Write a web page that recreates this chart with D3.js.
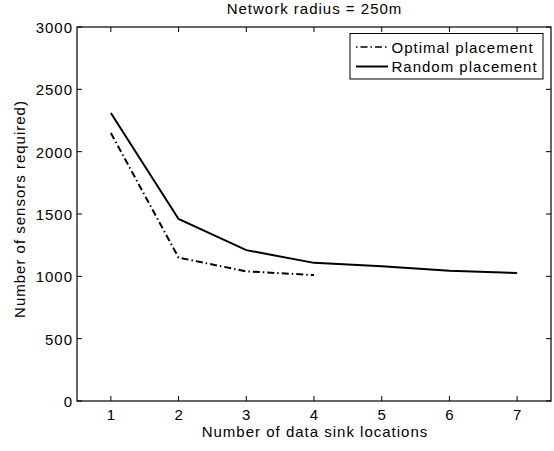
<!DOCTYPE html>
<html><head><meta charset="utf-8">
<script src="https://cdn.jsdelivr.net/npm/d3@7"></script>
<style>body{margin:0;background:#fff}svg{display:block}text{font-family:"Liberation Sans",Arial,sans-serif;fill:#000;font-size:15px;letter-spacing:1px}</style>
</head><body><svg id="c" width="554" height="451"></svg>
<script>
const optimalX = [1, 2, 3, 4];
const optimalY = [2150, 1150, 1040, 1010];
const randomX = [1, 2, 3, 4, 5, 6, 7];
const randomY = [2310, 1460, 1210, 1108, 1080, 1045, 1027];
const xTicks = [1, 2, 3, 4, 5, 6, 7];
const yTicks = [0, 500, 1000, 1500, 2000, 2500, 3000];
const seriesNames = ["Optimal placement", "Random placement"];

const svg = d3.select("#c");
const L = 77, R = 551, T = 27, B = 401;
const x = d3.scaleLinear().domain([0.5, 7.5]).range([L, R]);
const y = d3.scaleLinear().domain([0, 3000]).range([B, T]);

const tl = 5;
const g = svg.append("g");
xTicks.forEach(v => {
  g.append("line").attr("x1", x(v)).attr("x2", x(v)).attr("y1", B).attr("y2", B - tl).attr("stroke", "#000");
  g.append("line").attr("x1", x(v)).attr("x2", x(v)).attr("y1", T).attr("y2", T + tl).attr("stroke", "#000");
  g.append("text").attr("x", x(v) + 0.5).attr("y", 420).attr("text-anchor", "middle").text(v);
});
yTicks.forEach(v => {
  g.append("line").attr("x1", L).attr("x2", L + tl).attr("y1", y(v)).attr("y2", y(v)).attr("stroke", "#000");
  g.append("line").attr("x1", R).attr("x2", R - tl).attr("y1", y(v)).attr("y2", y(v)).attr("stroke", "#000");
  g.append("text").attr("x", 73).attr("y", y(v) + 6).attr("text-anchor", "end").text(v);
});
g.append("rect").attr("x", L).attr("y", T).attr("width", R - L).attr("height", B - T)
  .attr("fill", "none").attr("stroke", "#000").attr("stroke-width", 1.2);

const line = d3.line().x(d => x(d[0])).y(d => y(d[1]));
const optData = optimalX.map((v, i) => [v, optimalY[i]]);
const rndData = randomX.map((v, i) => [v, randomY[i]]);
svg.append("path").attr("d", line(optData)).attr("fill", "none").attr("stroke", "#000")
  .attr("stroke-width", 2).attr("stroke-dasharray", "7,3,1.5,3");
svg.append("path").attr("d", line(rndData)).attr("fill", "none").attr("stroke", "#000")
  .attr("stroke-width", 2);

svg.append("text").attr("x", 314.5).attr("y", 13.5).attr("text-anchor", "middle").text("Network radius = 250m");
svg.append("text").attr("x", 315).attr("y", 437).attr("text-anchor", "middle").text("Number of data sink locations");
svg.append("text").attr("transform", `translate(25,209) rotate(-90)`).attr("text-anchor", "middle").text("Number of sensors required)");

const lg = svg.append("g");
lg.append("rect").attr("x", 350).attr("y", 33.5).attr("width", 193).attr("height", 45.5).attr("fill", "#fff").attr("stroke", "#000");
const rows = [[47, 53, true], [66.5, 72, false]];
rows.forEach((r, i) => {
  const ln = lg.append("line").attr("x1", 356).attr("x2", 388).attr("y1", r[0]).attr("y2", r[0]).attr("stroke", "#000").attr("stroke-width", 2);
  if (r[2]) ln.attr("stroke-dasharray", "1.5,3,7,3").attr("stroke-width", 1.5);
  lg.append("text").attr("x", 391.5).attr("y", r[1]).text(seriesNames[i]);
});
</script></body></html>
